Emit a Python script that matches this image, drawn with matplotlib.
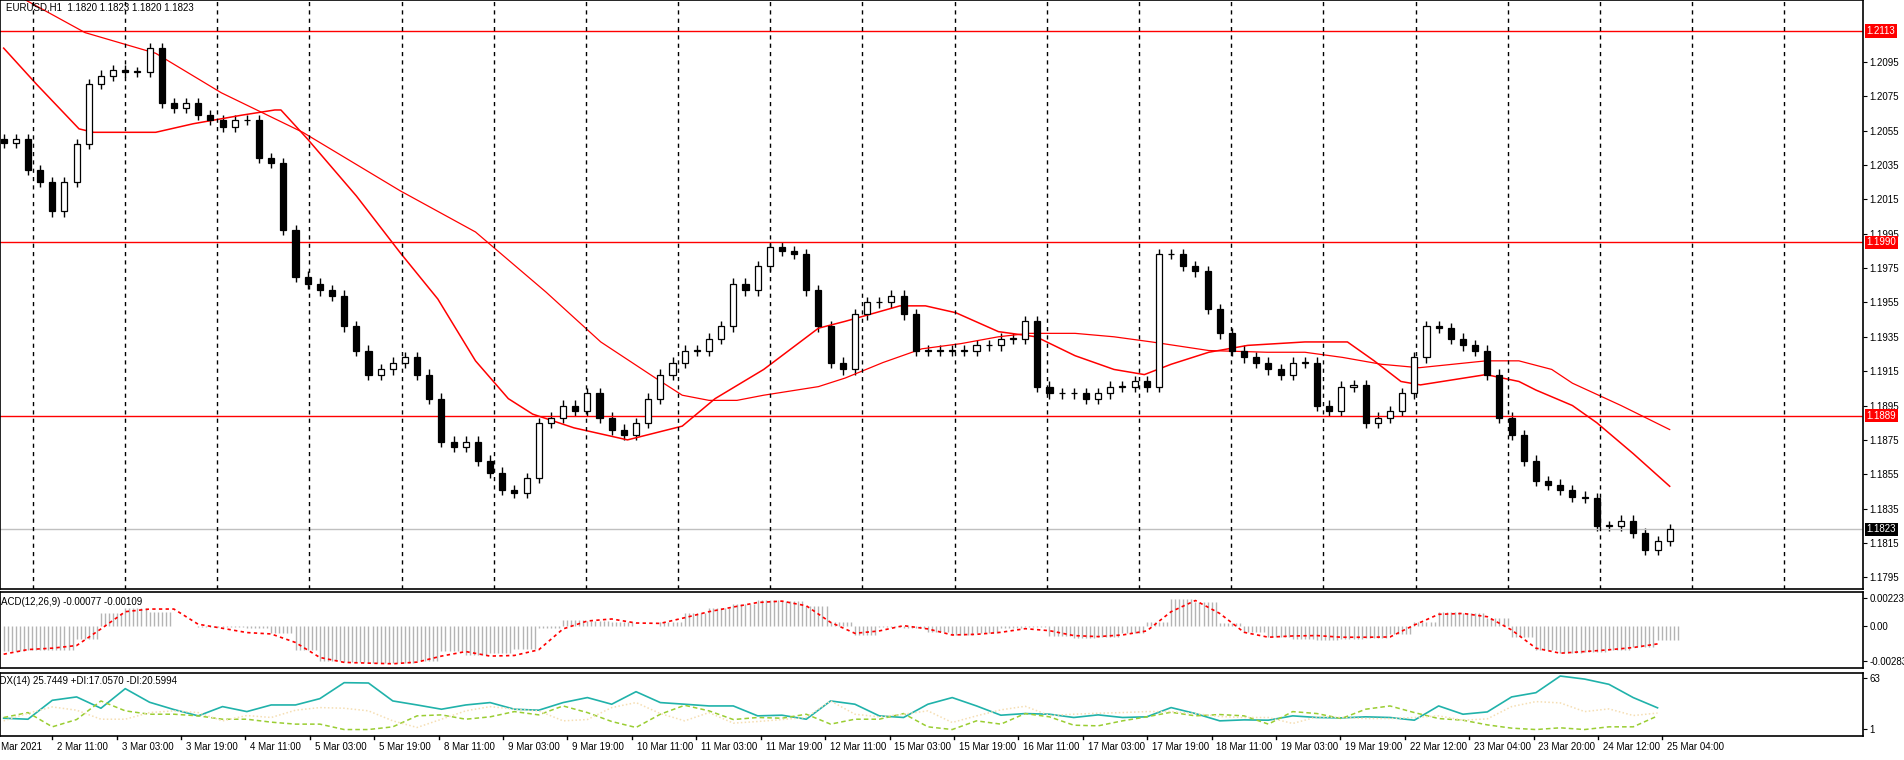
import numpy as np
import matplotlib
matplotlib.use("Agg")
import matplotlib.pyplot as plt

plt.rcParams["font.family"] = "Liberation Sans"

# closes, one candle per 3 hours (oldest first)
closes = [1.2048, 1.2050, 1.2032, 1.2025, 1.2008, 1.2025, 1.2047, 1.2082, 1.2087, 1.2090,
          1.2089, 1.2089, 1.2103, 1.2071, 1.2068, 1.2071, 1.2064, 1.2061, 1.2057, 1.2061,
          1.2061, 1.2039, 1.2036, 1.1997, 1.1970, 1.1966, 1.1962, 1.1959, 1.1941, 1.1927,
          1.1913, 1.1916, 1.1920, 1.1923, 1.1913, 1.1899, 1.1874, 1.1871, 1.1874, 1.1863,
          1.1856, 1.1846, 1.1844, 1.1853, 1.1885, 1.1888, 1.1895, 1.1892, 1.1902, 1.1888,
          1.1881, 1.1878, 1.1885, 1.1899, 1.1913, 1.1920, 1.1927, 1.1927, 1.1934, 1.1941,
          1.1966, 1.1962, 1.1976, 1.1987, 1.1985, 1.1983, 1.1962, 1.1941, 1.1920, 1.1916,
          1.1948, 1.1955, 1.1955, 1.1959, 1.1948, 1.1927, 1.1927, 1.1927, 1.1927, 1.1927,
          1.1930, 1.1930, 1.1934, 1.1934, 1.1944, 1.1906, 1.1902, 1.1902, 1.1902, 1.1899,
          1.1902, 1.1906, 1.1906, 1.1909, 1.1906, 1.1983, 1.1983, 1.1976, 1.1973, 1.1951,
          1.1937, 1.1927, 1.1923, 1.1920, 1.1916, 1.1913, 1.1920, 1.1920, 1.1895, 1.1892,
          1.1906, 1.1907, 1.1885, 1.1888, 1.1892, 1.1902, 1.1923, 1.1941, 1.1940, 1.1934,
          1.1930, 1.1927, 1.1913, 1.1888, 1.1878, 1.1863, 1.1851, 1.1849, 1.1846, 1.1842,
          1.1841, 1.1825, 1.1825, 1.1828, 1.1821, 1.1811, 1.1816, 1.1823]
first_open = 1.2050
wick = 0.0003

# moving averages: (candle position, price)
slow_pos = [1.8, 6.7, 12.5, 17.9, 24.6, 32.6, 38.8, 44.6, 49.1, 53.6, 55.8, 58.0, 60.3, 62.5,
            67.0, 69.2, 72.3, 75.5, 78.7, 81.8, 84.3, 88.1, 91.3, 94.4, 99.1, 103.9, 107.0,
            110.1, 113.3, 116.4, 121.9, 124.6, 127.3, 129.0, 133.0, 137.0]
slow_val = [1.2131, 1.2112, 1.2100, 1.2077, 1.2054, 1.2020, 1.1996, 1.1961, 1.1932, 1.1911,
            1.1901, 1.1898, 1.1898, 1.1901, 1.1906, 1.1911, 1.1920, 1.1928, 1.1931, 1.1935,
            1.1937, 1.1937, 1.1935, 1.1932, 1.1927, 1.1926, 1.1926, 1.1923, 1.1919, 1.1917,
            1.1921, 1.1921, 1.1916, 1.1908, 1.1895, 1.1881]
fast_pos = [0, 2.7, 6.2, 7.4, 12.5, 15.6, 19.6, 22.3, 22.8, 25.0, 29.0, 32.6, 35.7, 38.8, 41.5,
            43.5, 46.9, 51.3, 55.8, 58.5, 62.5, 67.0, 69.2, 73.7, 75.8, 78.3, 81.8, 84.9, 88.1,
            91.3, 93.8, 96.0, 99.1, 102.3, 107.0, 110.5, 112.7, 114.9, 116.5, 121.9, 124.6,
            126.0, 129.0, 131.0, 134.0, 137.0]
fast_val = [1.2103, 1.2082, 1.2056, 1.2054, 1.2054, 1.2059, 1.2064, 1.2067, 1.2067, 1.2050,
            1.2017, 1.1984, 1.1957, 1.1921, 1.1899, 1.1890, 1.1882, 1.1875, 1.1883, 1.1899,
            1.1916, 1.1940, 1.1944, 1.1953, 1.1953, 1.1949, 1.1938, 1.1935, 1.1924, 1.1916,
            1.1913, 1.1919, 1.1926, 1.1930, 1.1932, 1.1932, 1.1921, 1.1909, 1.1907, 1.1913,
            1.1909, 1.1904, 1.1895, 1.1885, 1.1867, 1.1848]

levels = [1.2113, 1.1990, 1.1889]
last_price = 1.1823

# indicators, one value every 2 candles (units of 1e-5 for MACD)
macd_hist = [-200, -192, -192, -105, 97, 137, 111, 0, -8, -8, -21, -55, -192, -279, -290, -293,
             -298, -285, -198, -232, -221, -184, -16, 42, 40, 26, 0, 32, 97, 137, 171, 200, 195,
             158, 26, -74, -8, -16, -53, -74, -55, -16, -8, -82, -95, -87, -61, 32, 211, 190, 18,
             -53, -87, -105, -113, -108, -95, -66, 32, 105, 97, 63, -87, -192, -219, -211, -192,
             -166, -113]
macd_signal = [-227, -190, -179, -158, -26, 111, 132, 132, 11, -21, -55, -66, -134, -253, -292,
               -298, -303, -290, -242, -206, -242, -237, -192, -26, 37, 53, 21, 18, 63, 111, 148,
               184, 195, 158, 26, -61, -42, 0, -26, -74, -69, -53, -24, -40, -79, -87, -74, -42,
               111, 200, 97, -53, -92, -82, -79, -92, -92, -90, 5, 90, 97, 71, -34, -179, -219,
               -206, -192, -174, -145]
adx = [14.3, 13.1, 36.2, 40.3, 26.5, 50.4, 33.8, 24.9, 17.2, 28.5, 22.4, 30.5, 30.5, 38.2, 57.7,
       57.3, 35.4, 30.5, 25.3, 30.5, 33.4, 25.3, 24.1, 33.4, 39.5, 31.4, 46.7, 33.4, 31.4, 29.3,
       29.3, 17.2, 18.0, 13.1, 35.4, 31.4, 17.2, 15.2, 31.4, 39.5, 29.3, 18.0, 20.0, 19.2, 15.2,
       18.4, 15.2, 16.0, 27.3, 20.0, 11.1, 12.3, 11.9, 17.2, 15.2, 14.7, 16.0, 15.2, 11.9, 29.3,
       19.2, 22.0, 40.3, 45.5, 65.8, 62.1, 55.7, 39.5, 27.0]
plus_di = [15.2, 21.2, 3.8, 12.7, 35.4, 23.3, 19.2, 19.2, 17.2, 13.1, 13.1, 9.5, 7.1, 7.1, 0.5,
           0.5, 3.8, 17.2, 18.4, 13.1, 16.0, 22.4, 18.4, 29.3, 21.2, 10.3, 3.0, 19.2, 30.1, 23.3,
           12.7, 15.2, 14.3, 19.2, 7.1, 13.1, 13.1, 20.0, 3.8, 0.5, 11.1, 7.1, 20.0, 16.0, 5.8,
           5.0, 11.1, 16.0, 21.6, 17.2, 18.8, 17.2, 7.1, 22.4, 20.0, 13.9, 25.3, 29.3, 21.2, 13.9,
           11.9, 6.2, 2.2, 0.5, 2.6, 0.5, 3.8, 3.8, 17.1]
minus_di = [11.1, 20.4, 28.1, 24.1, 13.1, 13.1, 21.2, 23.3, 21.2, 11.1, 17.6, 15.2, 24.1, 27.3,
            26.5, 23.3, 11.1, 3.0, 13.1, 23.3, 28.5, 25.3, 23.3, 11.1, 12.7, 27.3, 33.4, 20.0,
            11.1, 21.2, 8.3, 10.3, 12.7, 15.2, 35.4, 19.2, 16.0, 19.2, 23.3, 9.1, 17.2, 24.5,
            28.9, 17.6, 19.2, 20.4, 21.2, 22.4, 22.4, 20.0, 16.4, 15.2, 15.2, 7.9, 16.0, 15.2,
            13.9, 13.9, 15.2, 17.2, 11.9, 13.5, 28.5, 34.6, 33.0, 22.4, 25.7, 17.6, 20.6]

date_labels = ["2 Mar 2021", "2 Mar 11:00", "3 Mar 03:00", "3 Mar 19:00", "4 Mar 11:00",
               "5 Mar 03:00", "5 Mar 19:00", "8 Mar 11:00", "9 Mar 03:00", "9 Mar 19:00",
               "10 Mar 11:00", "11 Mar 03:00", "11 Mar 19:00", "12 Mar 11:00", "15 Mar 03:00",
               "15 Mar 19:00", "16 Mar 11:00", "17 Mar 03:00", "17 Mar 19:00", "18 Mar 11:00",
               "19 Mar 03:00", "19 Mar 19:00", "22 Mar 12:00", "23 Mar 04:00", "23 Mar 20:00",
               "24 Mar 12:00", "25 Mar 04:00"]

FS = 7
XMIN, XMAX = -0.3, 152.9
fig = plt.figure(figsize=(19.04, 7.6), dpi=100)
ax = fig.add_axes([0.0, 0.2245, 0.9785, 0.7755])
ax2 = fig.add_axes([0.0, 0.121, 0.9785, 0.1003])
ax3 = fig.add_axes([0.0, 0.032, 0.9785, 0.083])

for a in (ax, ax2, ax3):
    a.set_xlim(XMIN, XMAX)
    a.set_xticks([])
    for s in a.spines.values():
        s.set_color("black")
        s.set_linewidth(1.2)
    a.yaxis.tick_right()
    a.tick_params(axis="y", labelsize=FS, length=3, pad=1.5, colors="black")

# price candles
c = np.array(closes)
o = np.concatenate([[first_open], c[:-1]])
x = np.arange(len(c))
up = c >= o
hi = np.maximum(o, c) + wick
lo = np.minimum(o, c) - wick
ax.vlines(x, lo, hi, color="black", lw=1)
body = np.maximum(np.abs(c - o), 0.00004)
ax.bar(x[up], body[up], 0.5, np.minimum(o, c)[up], color="white", edgecolor="black", lw=0.9, zorder=3)
ax.bar(x[~up], body[~up], 0.5, np.minimum(o, c)[~up], color="black", edgecolor="black", lw=0.9, zorder=3)

ax.plot(slow_pos, slow_val, color="red", lw=0.9)
ax.plot(fast_pos, fast_val, color="red", lw=1.1)
for lv in levels:
    ax.axhline(lv, color="red", lw=1)
ax.axhline(last_price, color="#c0c0c0", lw=1)

for gx in np.arange(2.4, XMAX, 7.58):
    ax.axvline(gx, color="black", lw=1, ls=(0, (3, 3)))

ax.set_ylim(1.1788, 1.2131)
ax.set_yticks(np.round(np.arange(1.1795, 1.2100, 0.002), 4))
ax.yaxis.set_major_formatter(matplotlib.ticker.FormatStrFormatter("%.4f"))
for lv in levels:
    ax.text(1.002, lv, f"{lv:.4f}", transform=ax.get_yaxis_transform(), va="center", ha="left",
            fontsize=FS, color="white", bbox=dict(fc="red", ec="none", pad=1.2))
ax.text(1.002, last_price, f"{last_price:.4f}", transform=ax.get_yaxis_transform(), va="center",
        ha="left", fontsize=FS, color="white", bbox=dict(fc="black", ec="none", pad=1.2))
ax.text(0.003, 0.995, "EURUSD,H1  1.1820 1.1823 1.1820 1.1823", transform=ax.transAxes,
        va="top", ha="left", fontsize=FS)

# MACD
mh = np.array(macd_hist) * 1e-5
ms = np.array(macd_signal) * 1e-5
ip = np.arange(len(mh)) * 2
hx = np.arange(len(mh) * 6) / 3.0
ax2.vlines(hx, 0, np.repeat(mh, 6), color="#b4b4b4", lw=1)
ax2.plot(ip, ms, color="red", lw=1.2, ls=(0, (2, 2)))
ax2.set_ylim(-0.00337, 0.00269)
ax2.set_yticks([-0.00283, 0.0, 0.00223])
ax2.set_yticklabels(["-0.00283", "0.00", "0.00223"])
ax2.text(-0.004, 0.93, "MACD(12,26,9) -0.00077 -0.00109", transform=ax2.transAxes, va="top",
         ha="left", fontsize=FS)

# ADX
ax3.plot(ip, adx, color="#20b2aa", lw=1.2)
ax3.plot(ip, plus_di, color="yellowgreen", lw=1.1, ls=(0, (3, 2)))
ax3.plot(ip, minus_di, color="wheat", lw=1.1, ls=(0, (1, 1.5)))
ax3.set_ylim(-7, 70)
ax3.set_yticks([1, 63])
ax3.set_yticklabels(["1", "63"])
ax3.text(-0.004, 0.95, "ADX(14) 25.7449 +DI:17.0570 -DI:20.5994", transform=ax3.transAxes,
         va="top", ha="left", fontsize=FS)

# date labels, one every 16 hours
for k, lab in enumerate(date_labels):
    xd = -13 + 3.31 * 16 * k
    ax3.text(xd / 10.0 + 0.4, -0.1, lab, transform=ax3.get_xaxis_transform(), va="top", ha="left",
             fontsize=FS)
    ax3.plot([xd / 10.0] * 2, [-0.06, 0], transform=ax3.get_xaxis_transform(), color="black",
             lw=1, clip_on=False)

fig.savefig("out.png", dpi=100)
